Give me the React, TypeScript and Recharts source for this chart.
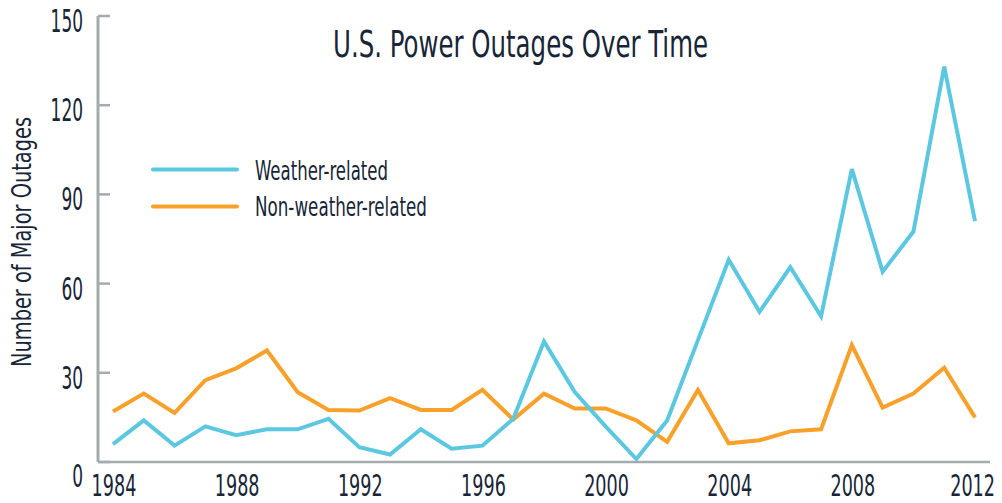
import React from "react";
import { LineChart, Line, XAxis, YAxis } from "recharts";

const years = [1984, 1985, 1986, 1987, 1988, 1989, 1990, 1991, 1992, 1993, 1994, 1995, 1996, 1997, 1998, 1999, 2000, 2001, 2002, 2003, 2004, 2005, 2006, 2007, 2008, 2009, 2010, 2011, 2012];
const weatherRelated = [6, 14, 5.5, 12, 9, 11, 11, 14.5, 5, 2.5, 11, 4.5, 5.5, 14.5, 40.5, 23.5, 12, 1, 14, 41, 68, 50.5, 65.5, 49, 98.5, 64, 77.5, 133, 81];
const nonWeatherRelated = [17, 23, 16.5, 27.5, 31.5, 37.5, 23.5, 17.5, 17.3, 21.5, 17.5, 17.5, 24.3, 14.3, 23, 18, 18, 14, 6.8, 24.2, 6.3, 7.3, 10.3, 11, 39.3, 18.3, 23, 31.7, 15];
const xTicks = [1984, 1988, 1992, 1996, 2000, 2004, 2008, 2012];
const yTicks = [0, 30, 60, 90, 120, 150];

const title = "U.S. Power Outages Over Time";
const yLabel = "Number of Major Outages";
const seriesNames = ["Weather-related", "Non-weather-related"];

const data = years.map((year, i) => ({
  year,
  weather: weatherRelated[i],
  nonWeather: nonWeatherRelated[i],
}));

const FONT = "'Liberation Sans Narrow', 'DejaVu Sans Condensed', 'Roboto', sans-serif";
const TEXT = "#172536";
const BLUE = "#5cc7e0";
const ORANGE = "#f8a12a";
const AXIS = "#a3abae";

const YTick = (props: any) => {
  const { y, payload } = props;
  const label = String(payload.value);
  const len = label.length * 10.8;
  const right = 83;
  const dy = payload.value === 0 ? 25 : 16;
  return (
    <text
      x={right - len}
      y={y + dy}
      fontFamily={FONT}
      fontSize={32}
      fill={TEXT}
      textLength={len}
      lengthAdjust="spacingAndGlyphs"
    >
      {label}
    </text>
  );
};

const XTick = (props: any) => {
  const { x, payload } = props;
  const label = String(payload.value);
  const len = label.length * 11.2;
  const left = Math.min(x - len / 2 + 1, 995 - len);
  const s = 0.65;
  return (
    <text
      transform={`translate(${left}, 496) scale(${s}, 1)`}
      x={0}
      y={0}
      fontFamily={FONT}
      fontSize={30}
      fill={TEXT}
      textLength={len / s}
      lengthAdjust="spacingAndGlyphs"
    >
      {label}
    </text>
  );
};

export default function App() {
  return (
    <div style={{ position: "absolute", left: 0, top: 0, width: 1002, height: 503, background: "#fff" }}>
      <LineChart width={1002} height={503} data={data} margin={{ top: 16, right: 12, bottom: 0, left: 0 }}>
        <XAxis
          dataKey="year"
          type="number"
          domain={[1984, 2012]}
          ticks={xTicks}
          padding={{ left: 15, right: 15 }}
          height={41}
          tickLine={false}
          axisLine={{ stroke: AXIS, strokeWidth: 2.5 }}
          tick={<XTick />}
          interval={0}
        />
        <YAxis
          type="number"
          domain={[0, 150]}
          ticks={yTicks}
          width={98}
          tickSize={-12}
          tickLine={{ stroke: AXIS, strokeWidth: 2.5 }}
          axisLine={{ stroke: AXIS, strokeWidth: 3 }}
          tick={<YTick />}
          interval={0}
        />
        <Line
          dataKey="nonWeather"
          name={seriesNames[1]}
          stroke={ORANGE}
          strokeWidth={4}
          dot={false}
          isAnimationActive={false}
          type="linear"
        />
        <Line
          dataKey="weather"
          name={seriesNames[0]}
          stroke={BLUE}
          strokeWidth={4}
          dot={false}
          isAnimationActive={false}
          type="linear"
        />
        <text
          x={333}
          y={57}
          fontFamily={FONT}
          fontSize={37}
          fill={TEXT}
          textLength={375}
          lengthAdjust="spacingAndGlyphs"
        >
          {title}
        </text>
        <text
          x={31}
          y={367}
          transform="rotate(-90, 31, 367)"
          fontFamily={FONT}
          fontSize={27}
          fill={TEXT}
          textLength={250}
          lengthAdjust="spacingAndGlyphs"
        >
          {yLabel}
        </text>
        <line x1={153} y1={169.5} x2={237} y2={169.5} stroke={BLUE} strokeWidth={4} strokeLinecap="round" />
        <line x1={153} y1={206.5} x2={237} y2={206.5} stroke={ORANGE} strokeWidth={4} strokeLinecap="round" />
        <text x={255} y={180} fontFamily={FONT} fontSize={27} fill={TEXT} textLength={133} lengthAdjust="spacingAndGlyphs">
          {seriesNames[0]}
        </text>
        <text x={255} y={216} fontFamily={FONT} fontSize={27} fill={TEXT} textLength={172} lengthAdjust="spacingAndGlyphs">
          {seriesNames[1]}
        </text>
      </LineChart>
    </div>
  );
}
